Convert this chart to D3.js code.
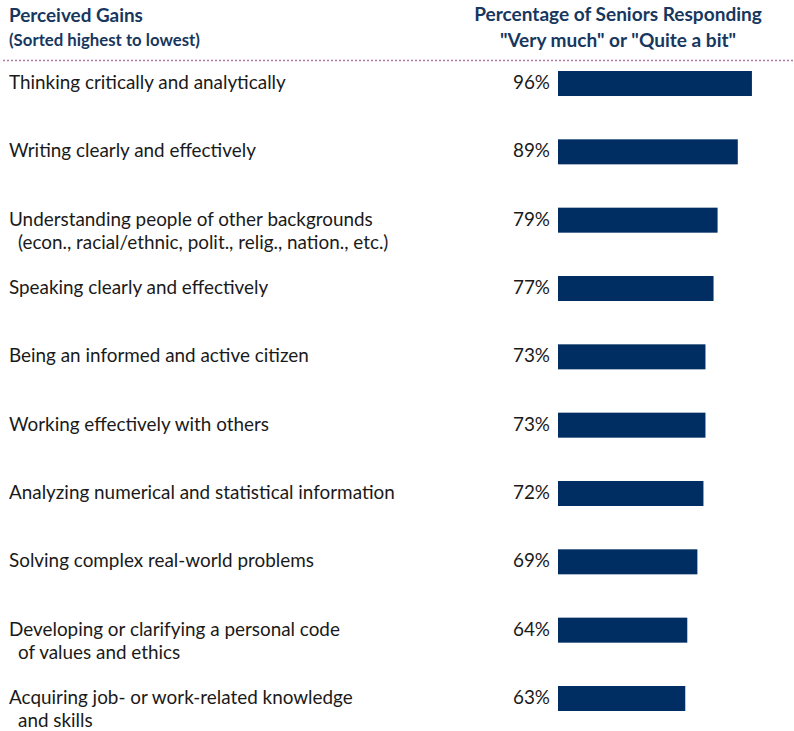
<!DOCTYPE html>
<html><head><meta charset="utf-8">
<script src="https://cdn.jsdelivr.net/npm/d3@7"></script>
<style>body{margin:0;background:#fff}svg{display:block}</style>
</head><body>
<svg id="c" width="794" height="731"></svg>
<script>
const categories = [
  ["Thinking critically and analytically"],
  ["Writing clearly and effectively"],
  ["Understanding people of other backgrounds", "(econ., racial/ethnic, polit., relig., nation., etc.)"],
  ["Speaking clearly and effectively"],
  ["Being an informed and active citizen"],
  ["Working effectively with others"],
  ["Analyzing numerical and statistical information"],
  ["Solving complex real-world problems"],
  ["Developing or clarifying a personal code", "of values and ethics"],
  ["Acquiring job- or work-related knowledge", "and skills"]
];
const values = [96, 89, 79, 77, 73, 73, 72, 69, 64, 63];
const headerLeft = ["Perceived Gains", "(Sorted highest to lowest)"];
const headerRight = ["Percentage of Seniors Responding", "\"Very much\" or \"Quite a bit\""];

const navy = "#002d62";
const headColor = "#17375e";
const font = "Lato, 'Open Sans', sans-serif";
const svg = d3.select("#c");

function fitSize(text, target, weight) {
  const t = svg.append("text").attr("font-family", font).attr("font-size", 100).attr("font-weight", weight).text(text);
  const w = t.node().getComputedTextLength();
  t.remove();
  return 100 * target / w;
}
const fs = fitSize(categories[0][0], 277, "normal");
const hs1 = fitSize(headerLeft[0], 134, "bold");
const hs2 = fitSize(headerLeft[1], 191, "bold");
const hs3 = fitSize(headerRight[0], 288, "bold");

const idx = d3.range(values.length);
const x = d3.scaleLinear().domain([0, 100]).range([558, 760]);
const y = d3.scaleBand().domain(idx).range([71, 711]).paddingInner(0.634).paddingOuter(0).align(0);

svg.append("text").attr("x", 9).attr("y", 22).attr("font-family", font).attr("font-weight", "bold")
  .attr("font-size", hs1).attr("fill", headColor).text(headerLeft[0]);
svg.append("text").attr("x", 9).attr("y", 46).attr("font-family", font).attr("font-weight", "bold")
  .attr("font-size", hs2).attr("fill", headColor).text(headerLeft[1]);
headerRight.forEach((t, i) => {
  svg.append("text").attr("x", 618).attr("y", 21 + i * 26).attr("text-anchor", "middle")
    .attr("font-family", font).attr("font-weight", "bold").attr("font-size", hs3)
    .attr("fill", headColor).text(t);
});

svg.append("line").attr("x1", 3).attr("x2", 794).attr("y1", 60.5).attr("y2", 60.5)
  .attr("stroke", "#b07ca4").attr("stroke-width", 1.3).attr("stroke-dasharray", "2,2");

svg.append("g").selectAll("rect").data(idx).join("rect")
  .attr("x", x(0)).attr("y", i => y(i)).attr("width", i => x(values[i]) - x(0))
  .attr("height", y.bandwidth()).attr("fill", navy);

svg.append("g").selectAll("text").data(idx).join("text")
  .attr("x", x(0) - 8).attr("y", i => y(i) + y.bandwidth() / 2 + 5.5)
  .attr("text-anchor", "end").attr("font-family", font).attr("font-size", fs)
  .attr("fill", "#1a1a1a").text(i => values[i] + "%");

const lab = svg.append("g").selectAll("text").data(idx).join("text")
  .attr("font-family", font).attr("font-size", fs).attr("fill", "#1a1a1a");
lab.each(function(i) {
  const t = d3.select(this);
  categories[i].forEach((line, j) => {
    t.append("tspan").attr("x", j === 0 ? 9 : 18)
      .attr("y", y(i) + y.bandwidth() / 2 + 5.5 + j * 23).text(line);
  });
});
</script>
</body></html>
